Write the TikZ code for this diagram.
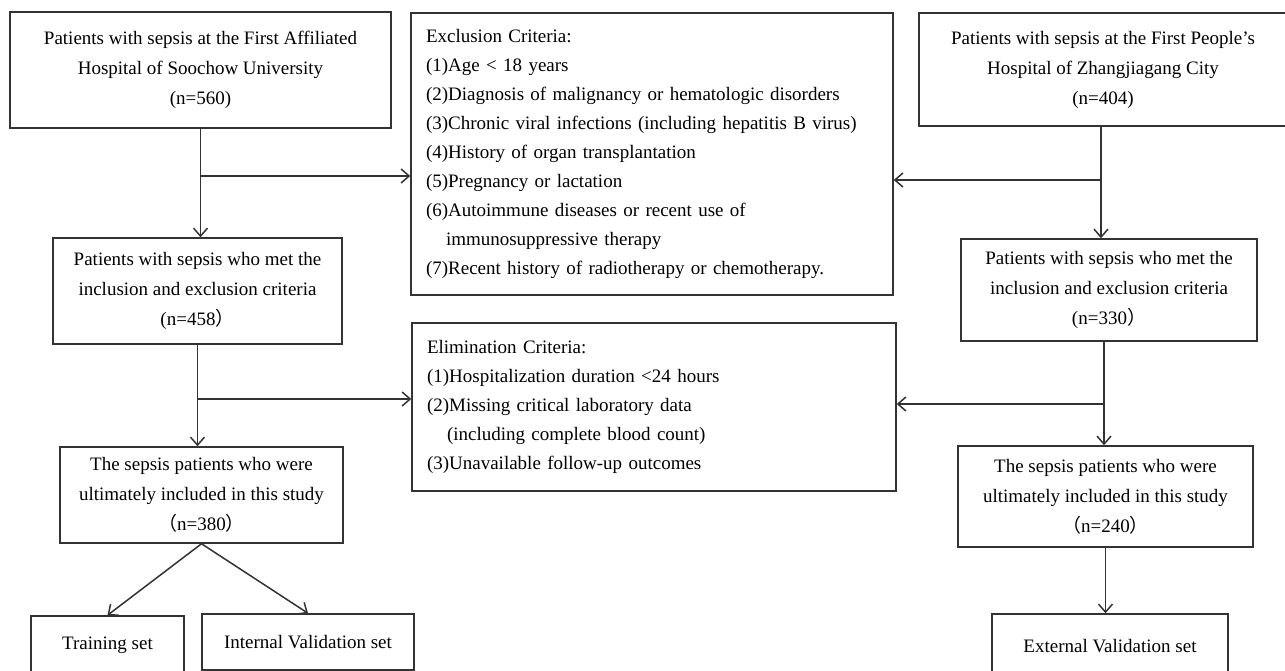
\documentclass[tikz,border=0pt]{standalone}
\usepackage{fontspec}
\setmainfont{Liberation Serif}
\newfontfamily\cjk{Noto Sans CJK SC}
\usetikzlibrary{arrows.meta}
\begin{document}
\begin{tikzpicture}[x=1pt,y=-1pt,
  box/.style={draw=black!80, line width=1.5pt, inner sep=0pt, align=center, font=\fontsize{19}{30}\selectfont},
  crit/.style={draw=black!80, line width=1.5pt, inner xsep=15pt, inner ysep=0pt, align=left, font=\fontsize{19}{29}\selectfont},
  arr/.style={draw=black!80, line width=1.5pt, -{Straight Barb[length=8pt,width=14pt,line width=1.5pt]}}]
\useasboundingbox (0,0) rectangle (1285,671);
\clip (0,0) rectangle (1285,671);
\fill[white] (0,0) rectangle (1285,671);

% left column
\node[box, minimum width=381pt, minimum height=116pt] (A) at (200.5,70)
  {Patients with sepsis at the First Affiliated\\Hospital of Soochow University\\(n=560)};
\node[box, minimum width=289pt, minimum height=106pt] (B) at (197.5,291)
  {Patients with sepsis who met the\\inclusion and exclusion criteria\\(n=458{\cjk ）}};
\node[box, minimum width=283pt, minimum height=96pt] (E) at (201.5,495)
  {The sepsis patients who were\\ultimately included in this study\\{\cjk （}n=380{\cjk ）}};
\node[box, minimum width=153pt, minimum height=58pt] (T) at (107.5,645) {Training set};
\node[box, minimum width=212pt, minimum height=56pt] (I) at (308,642) {Internal Validation set};

% middle column
\node[crit, text width=452pt, minimum height=282pt] (Ex) at (652,154)
  {Exclusion Criteria:\\
   (1)Age < 18 years\\
   (2)Diagnosis of malignancy or hematologic disorders\\
   (3)Chronic viral infections (including hepatitis B virus)\\
   (4)History of organ transplantation\\
   (5)Pregnancy or lactation\\
   (6)Autoimmune diseases or recent use of\\
   \hspace*{20pt}immunosuppressive therapy\\
   (7)Recent history of radiotherapy or chemotherapy.};
\node[crit, text width=454pt, minimum height=168pt] (El) at (654,407)
  {Elimination Criteria:\\
   (1)Hospitalization duration <24 hours\\
   (2)Missing critical laboratory data\\
   \hspace*{20pt}(including complete blood count)\\
   (3)Unavailable follow-up outcomes};

% right column
\node[box, minimum width=368pt, minimum height=113pt] (C) at (1103,69.5)
  {Patients with sepsis at the First People’s\\Hospital of Zhangjiagang City\\(n=404)};
\node[box, minimum width=296pt, minimum height=102pt] (D) at (1109,290)
  {Patients with sepsis who met the\\inclusion and exclusion criteria\\(n=330{\cjk ）}};
\node[box, minimum width=295pt, minimum height=101pt] (F) at (1105.5,496.5)
  {The sepsis patients who were\\ultimately included in this study\\{\cjk （}n=240{\cjk ）}};
\node[box, minimum width=236pt, minimum height=64pt] (G) at (1110,646) {External Validation set};

% junctions
\coordinate (j1) at (200.5,176);
\coordinate (j2) at (197.5,399);
\coordinate (j3) at (1101,180);
\coordinate (j4) at (1104,404);

% connectors
\draw[arr] (A.south) -- (A.south |- B.north);
\draw[arr] (j1) -- (j1 -| Ex.west);
\draw[arr] (B.south) -- (B.south |- E.north);
\draw[arr] (j2) -- (j2 -| El.west);
\draw[arr] (j3 |- C.south) -- (j3 |- D.north);
\draw[arr] (j3) -- (j3 -| Ex.east);
\draw[arr] (j4 |- D.south) -- (j4 |- F.north);
\draw[arr] (j4) -- (j4 -| El.east);
\draw[arr] (E.south) -- (T.north);
\draw[arr] (E.south) -- (I.north);
\draw[arr] (F.south) -- (F.south |- G.north);
\end{tikzpicture}
\end{document}
